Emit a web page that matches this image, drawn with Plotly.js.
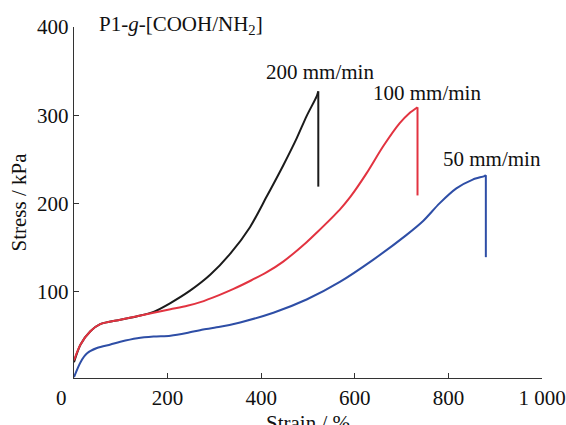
<!DOCTYPE html>
<html>
<head>
<meta charset="utf-8">
<script src="https://cdn.plot.ly/plotly-3.0.1.min.js"></script>
<style>html,body{margin:0;padding:0;background:#fff;}#chart{width:566px;height:425px;}</style>
</head>
<body>
<div id="chart"></div>
<script>
// Strain (%) and stress (kPa).
// The last point of each series is the end of the vertical drop at break.
var strain200 = [0, 14, 35, 56, 99, 135, 170, 206, 248, 291, 334, 376, 412, 447, 476, 497, 519, 522, 522];
var stress200 = [20, 40, 55, 63, 68, 72, 77, 87, 101, 119, 143, 173, 208, 243, 274, 299, 322, 327, 219];

var strain100 = [0, 14, 35, 56, 99, 135, 170, 206, 242, 270, 310, 341, 376, 412, 447, 497, 519, 568, 590, 625, 661, 696, 716, 734, 734];
var stress100 = [22, 40, 55, 63, 68, 72, 76, 80, 84, 88, 96, 103, 112, 122, 134, 156, 167, 193, 207, 234, 265, 291, 302, 309, 209];

var strain50 = [0, 14, 28, 49, 78, 99, 135, 170, 206, 241, 276, 312, 355, 426, 497, 568, 639, 710, 746, 781, 817, 852, 877, 880, 880];
var stress50 = [3, 20, 30, 36, 40, 43, 47, 49, 50, 53, 57, 60, 65, 76, 91, 111, 136, 164, 180, 200, 217, 227, 231, 232, 139];

var seriesNames = ["200 mm/min", "100 mm/min", "50 mm/min"];
var seriesColors = ["#1b1b1b", "#e23340", "#2e4ea6"];
var xTickVals = [200, 400, 600, 800, 1000];
var xTickText = ["200", "400", "600", "800", "1 000"];
var yTickVals = [100, 200, 300, 400];

var serif = "Liberation Serif, Times New Roman, serif";

var allX = [strain200, strain100, strain50];
var allY = [stress200, stress100, stress50];
var traces = [];
for (var i = 0; i < 3; i++) {
  var xs = allX[i], ys = allY[i];
  // smooth loading curve
  traces.push({x: xs.slice(0, -1), y: ys.slice(0, -1), name: seriesNames[i], mode: "lines",
    line: {color: seriesColors[i], width: 2, shape: "spline", smoothing: 0.8}});
  // straight drop at break
  traces.push({x: xs.slice(-2), y: ys.slice(-2), name: seriesNames[i], mode: "lines",
    line: {color: seriesColors[i], width: 2}});
}

var layout = {
  width: 566, height: 425,
  margin: {l: 73.5, r: 23.5, t: 27, b: 47},
  paper_bgcolor: "#fff", plot_bgcolor: "#fff",
  showlegend: false,
  font: {family: serif, size: 21, color: "#111"},
  xaxis: {
    range: [0, 1000], tickvals: xTickVals, ticktext: xTickText,
    ticks: "inside", ticklen: 5, tickcolor: "#333", tickwidth: 1.3,
    showline: true, linecolor: "#333", linewidth: 1.3,
    showgrid: false, zeroline: false, fixedrange: true,
    tickfont: {family: serif, size: 21, color: "#111"}
  },
  yaxis: {
    range: [2, 400], tickvals: yTickVals,
    ticks: "inside", ticklen: 5, tickcolor: "#333", tickwidth: 1.3,
    showline: true, linecolor: "#333", linewidth: 1.3,
    showgrid: false, zeroline: false, fixedrange: true,
    tickfont: {family: serif, size: 21, color: "#111"}
  },
  annotations: [
    {text: "P1-<i>g</i>-[COOH/NH<sub>2</sub>]", xref: "paper", yref: "paper", x: 0.05, y: 1.005,
     xanchor: "left", yanchor: "middle", showarrow: false, font: {family: serif, size: 21, color: "#111"}},
    {text: seriesNames[0], x: 406, y: 349, xanchor: "left", yanchor: "middle", showarrow: false,
     font: {family: serif, size: 21, color: "#111"}},
    {text: seriesNames[1], x: 634, y: 325, xanchor: "left", yanchor: "middle", showarrow: false,
     font: {family: serif, size: 21, color: "#111"}},
    {text: seriesNames[2], x: 784, y: 250, xanchor: "left", yanchor: "middle", showarrow: false,
     font: {family: serif, size: 21, color: "#111"}},
    {text: "0", x: 0, xref: "x", y: 0, yref: "paper", xanchor: "center", yanchor: "top", xshift: -13, yshift: -6,
     showarrow: false, font: {family: serif, size: 21, color: "#111"}},
    {text: "Strain / %", xref: "paper", yref: "paper", x: 0.5, y: 0, xanchor: "center", yanchor: "top", yshift: -31,
     showarrow: false, font: {family: serif, size: 21, color: "#111"}},
    {text: "Stress / kPa", xref: "paper", yref: "paper", x: 0, y: 0.5, xanchor: "center", yanchor: "middle",
     xshift: -56, textangle: -90, showarrow: false, font: {family: serif, size: 21, color: "#111"}}
  ]
};

Plotly.newPlot("chart", traces, layout, {displayModeBar: false, staticPlot: true});
</script>
</body>
</html>
